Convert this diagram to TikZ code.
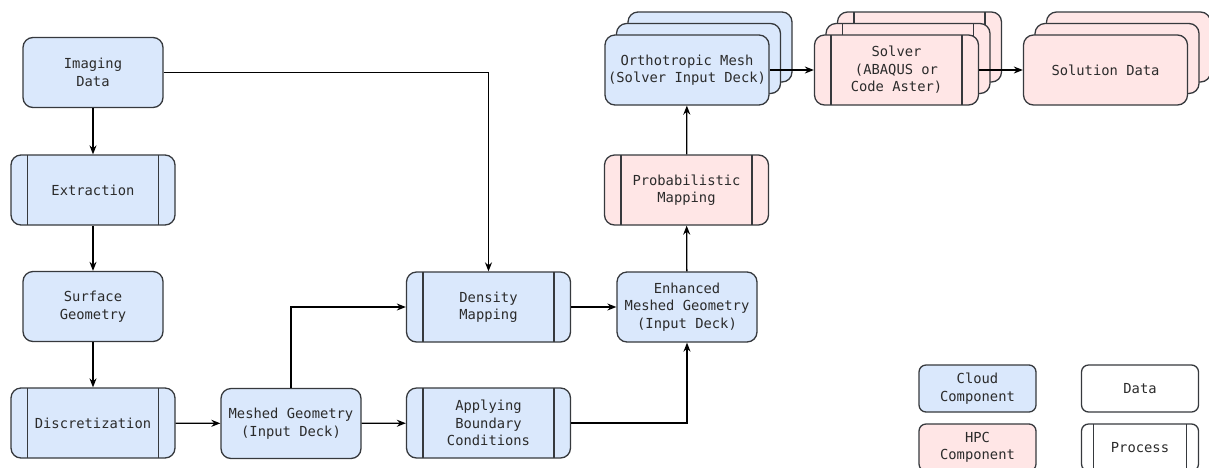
\documentclass[tikz,border=0pt]{standalone}
\usepackage{fontspec}
\setmonofont{DejaVu Sans Mono}
\usetikzlibrary{arrows.meta}
\definecolor{cloudfill}{HTML}{DAE8FC}
\definecolor{hpcfill}{HTML}{FFE6E6}
\definecolor{edgec}{HTML}{36393D}
\definecolor{textc}{HTML}{2B2B2B}
\tikzset{
  box/.style={draw=edgec, line width=1.3pt, rounded corners=10pt,
    minimum height=70pt, align=center, inner sep=0pt, text=textc,
    font=\fontsize{13.8}{17.5}\selectfont\ttfamily},
  datab/.style={box, minimum width=140pt},
  wdata/.style={box, minimum width=164pt},
  bars/.style={path picture={
    \draw[edgec, line width=1.3pt]
      ([xshift=#1]path picture bounding box.north west) -- ([xshift=#1]path picture bounding box.south west)
      ([xshift=-#1]path picture bounding box.north east) -- ([xshift=-#1]path picture bounding box.south east);}},
  procb/.style={box, minimum width=164pt, bars=16.4pt},
  legb/.style={box, minimum width=117pt, minimum height=47pt, rounded corners=7pt},
  cloud/.style={fill=cloudfill},
  hpc/.style={fill=hpcfill},
  arr/.style={draw=black, line width=1.3pt, -{Stealth[length=9pt,width=7pt]}},
}
\begin{document}
\begin{tikzpicture}[x=1pt, y=-1pt]
\useasboundingbox (0,0) rectangle (1209,467);

% left column
\node[datab, cloud] (img) at (93,72.5) {Imaging\\Data};
\node[procb, cloud] (ext) at (93,190) {Extraction};
\node[datab, cloud] (surf) at (93,306.5) {Surface\\Geometry};
\node[procb, cloud] (disc) at (93,423) {Discretization};

% middle
\node[datab, cloud] (mesh) at (291,423.5) {Meshed Geometry\\(Input Deck)};
\node[procb, cloud] (dens) at (488.5,307) {Density\\Mapping};
\node[procb, cloud] (bc) at (488.5,423) {Applying\\Boundary\\Conditions};
\node[datab, cloud] (emesh) at (687,307) {Enhanced\\Meshed Geometry\\(Input Deck)};
\node[procb, hpc] (prob) at (686.5,190) {Probabilistic\\Mapping};

% stacked top row
\node[wdata, cloud] (orth3) at (710,47) {};
\node[wdata, cloud] (orth2) at (698.5,58.5) {};
\node[wdata, cloud] (orth) at (687,70) {Orthotropic Mesh\\(Solver Input Deck)};

\node[procb, hpc] (solv3) at (919.5,47) {};
\node[procb, hpc] (solv2) at (908,58.5) {};
\node[procb, hpc] (solv) at (896.5,70) {Solver\\(ABAQUS or\\Code Aster)};

\node[wdata, hpc] (sol3) at (1128.5,47) {};
\node[wdata, hpc] (sol2) at (1117,58.5) {};
\node[wdata, hpc] (sol) at (1105.5,70) {Solution Data};

% legend
\node[legb, cloud] (lcloud) at (977.5,388.5) {Cloud\\Component};
\node[legb, hpc] (lhpc) at (977.5,447.5) {HPC\\Component};
\node[legb] (ldata) at (1140,388.5) {Data};
\node[legb, bars=11.7pt] (lproc) at (1140,447.5) {Process};

% connectors
\draw[arr] (img) -- (ext);
\draw[arr] (img.east) -| (dens.north);
\draw[arr] (ext) -- (surf);
\draw[arr] (surf) -- (disc);
\draw[arr] (disc) -- (mesh);
\draw[arr] (mesh.north) |- (dens.west);
\draw[arr] (mesh) -- (bc);
\draw[arr] (dens) -- (emesh);
\draw[arr] (bc.east) -| (emesh.south);
\draw[arr] (emesh) -- (prob);
\draw[arr] (prob) -- (orth);
\draw[arr] (orth) -- (solv);
\draw[arr] (solv) -- (sol);
\end{tikzpicture}
\end{document}
